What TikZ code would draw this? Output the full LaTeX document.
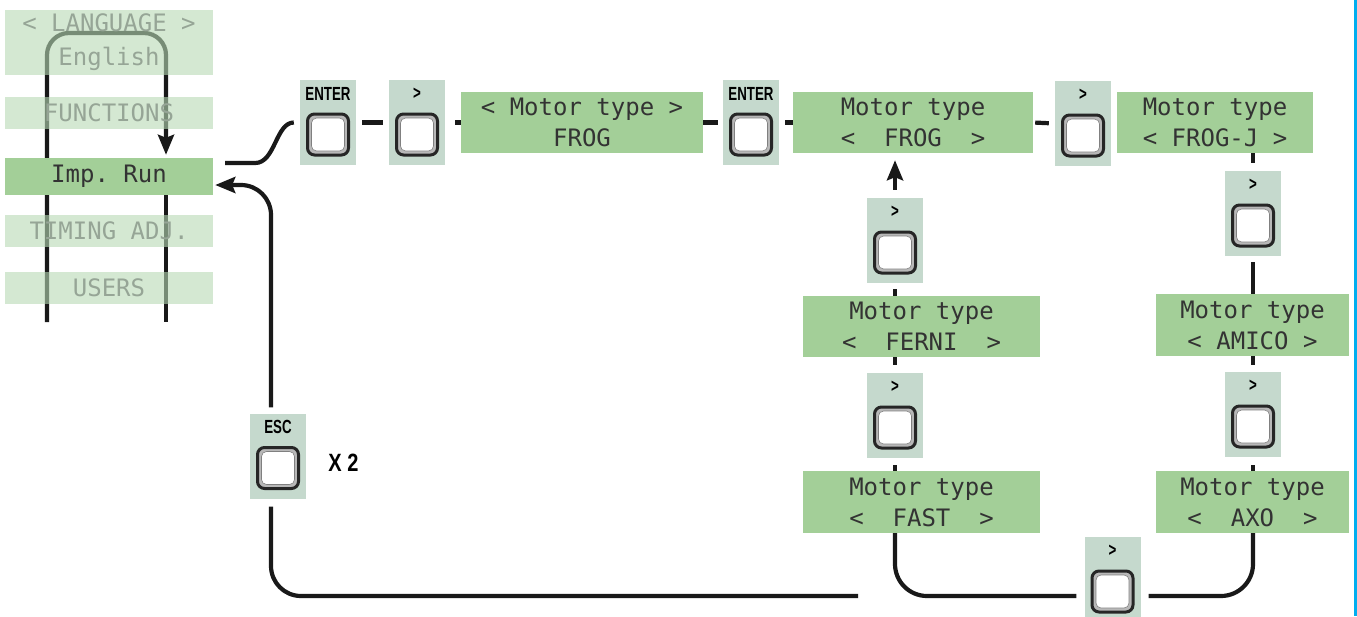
\documentclass[tikz,border=0pt]{standalone}
\usepackage{fontspec}
\usetikzlibrary{arrows.meta}
\newfontfamily\lcdfont{DejaVu Sans Mono}
\newfontfamily\keyfont[FakeStretch=0.7]{Liberation Sans}
\newfontfamily\countfont[FakeStretch=0.8]{Liberation Sans}
\definecolor{lcdgreen}{RGB}{163,207,152}
\definecolor{fadegreen}{RGB}{183,217,180}
\definecolor{keygrey}{RGB}{197,217,205}
\definecolor{fadetext}{RGB}{150,165,150}
\definecolor{edgeblue}{RGB}{0,174,239}
\tikzset{
  lcd/.style={rectangle, fill=lcdgreen, inner sep=0pt, align=center, text=black!80,
    font=\lcdfont\fontsize{24}{31}\selectfont},
  lcdfaded/.style={lcd, fill=fadegreen, fill opacity=0.6, text opacity=1, text=fadetext,
    font=\lcdfont\fontsize{24}{34}\selectfont},
  keypanel/.style={rectangle, fill=keygrey, minimum width=56pt, minimum height=85pt, inner sep=0pt},
  keylabel/.style={font=\keyfont\bfseries\fontsize{19}{19}\selectfont, inner sep=0pt},
  keybtn/.style={rectangle, rounded corners=7pt, minimum size=41pt, fill=black!28,
    draw=black!85, line width=3pt, inner sep=0pt},
  keyface/.style={rectangle, rounded corners=5pt, minimum size=33pt, fill=white,
    draw=black!50, line width=0.6pt, inner sep=0pt},
  link/.style={draw=black!90, line width=4.2pt},
  tip/.style={-{Stealth[length=20pt,width=16pt,inset=3pt]}},
}
% key panel: name, position, label
\newcommand{\keypanel}[3]{%
  \node[keypanel] (#1) at (#2) {};
  \node[keylabel] (#1-lbl) at ([shift={(0,-29)}]#1.center) {#3};
  \node[keybtn] (#1-btn) at ([shift={(0,12)}]#1.center) {};
  \node[keyface] (#1-face) at (#1-btn.center) {};
}
\begin{document}
\begin{tikzpicture}[x=1pt, y=-1pt]
\useasboundingbox (0,0) rectangle (1357,616);
% Menu rails (drawn first, the menu boxes go over them)
\coordinate (railL) at (47,322);
\coordinate (railR) at (166,322);
\node[lcd, minimum width=208pt, minimum height=37pt] (imp) at (109,176.5) {};
\draw[link, tip, rounded corners=22pt] (railL) -- (47,33) -- (166,33) -- ([shift={(0,-3)}]railR |- imp.north);
\draw[link] (railR |- imp.south) -- (railR);
% Menu
\node[lcdfaded, minimum width=208pt, minimum height=65pt] (language) at (109,42.5) {<~LANGUAGE~>\\English};
\node[lcdfaded, minimum width=208pt, minimum height=32pt] (functions) at (109,113) {FUNCTIONS};
\node[lcd, minimum width=208pt, minimum height=37pt] (imp) at (109,176.5) {Imp.~Run};
\node[lcdfaded, minimum width=208pt, minimum height=32pt] (timing) at (109,231) {TIMING~ADJ.};
\node[lcdfaded, minimum width=208pt, minimum height=32pt] (users) at (109,288) {USERS};
% Displays
\node[lcd, minimum width=242pt, minimum height=61pt] (motorsel) at (582,122.5) {<~Motor~type~>\\FROG};
\node[lcd, minimum width=240pt, minimum height=61pt] (frog) at (913,122.5) {Motor~type\\<~~FROG~~>};
\node[lcd, minimum width=196pt, minimum height=61pt] (frogj) at (1215,122.5) {Motor~type\\<~FROG-J~>};
\node[lcd, minimum width=237pt, minimum height=61pt] (ferni) at (921.5,326.5) {Motor~type\\<~~FERNI~~>};
\node[lcd, minimum width=193pt, minimum height=62pt] (amico) at (1252.5,325) {Motor~type\\<~AMICO~>};
\node[lcd, minimum width=237pt, minimum height=62pt] (fast) at (921.5,502) {Motor~type\\<~~FAST~~>};
\node[lcd, minimum width=193pt, minimum height=62pt] (axo) at (1252.5,502) {Motor~type\\<~~AXO~~>};
% Keys
\keypanel{keyEnterA}{328,122.5}{ENTER}
\keypanel{keyMotor}{417,122.5}{>}
\keypanel{keyEnterB}{751,122.5}{ENTER}
\keypanel{keyFrogJ}{1083,123.5}{>}
\keypanel{keyAmico}{1253,213.5}{>}
\keypanel{keyAxo}{1253,414.5}{>}
\keypanel{keyFast}{1112.5,579.5}{>}
\keypanel{keyFerni}{895,415.5}{>}
\keypanel{keyFrog}{895,240.5}{>}
\keypanel{keyEsc}{278,456}{ESC}
\node[font=\countfont\bfseries\fontsize{25}{25}\selectfont, anchor=west, inner sep=0pt] (times) at ([shift={(22,7)}]keyEsc.east) {X 2};
% Top row
\draw[link] ([shift={(12,-13.5)}]imp.east) -- ++(30,0) .. controls +(20,0) and +(-18,0) .. ([shift={(-6,0)}]keyEnterA.west);
\draw[link, shorten <=6pt, shorten >=6pt] (keyEnterA) -- (keyMotor);
\draw[link, shorten <=10pt] (keyMotor.east) -- (motorsel.west);
\draw[link, shorten >=5pt] (motorsel.east) -- (keyEnterB.west);
\draw[link, shorten <=6pt] (keyEnterB.east) -- (frog.west);
\draw[link, shorten <=2pt, shorten >=6pt] (frog.east) -- (keyFrogJ.west);
% Right column
\draw[link, shorten >=8pt] (frogj.south -| keyAmico) -- (keyAmico.north);
\draw[link, shorten <=6pt] (keyAmico.south) -- (keyAmico.south |- amico.north);
\draw[link, shorten >=7pt] (amico.south -| keyAxo) -- (keyAxo.north);
\draw[link, shorten <=8pt] (keyAxo.south) -- (keyAxo.south |- axo.north);
% Bottom loop
\draw[link, rounded corners=32pt] (keyAxo.south |- axo.south) |- ([shift={(8,16.5)}]keyFast.east);
\draw[link, rounded corners=32pt] (keyFerni.south |- fast.south) |- ([shift={(-8,16.5)}]keyFast.west);
% Middle column
\draw[link, shorten >=7pt] (fast.north -| keyFerni) -- (keyFerni.south);
\draw[link, shorten >=8pt] (ferni.south -| keyFerni) -- (keyFerni.north);
\draw[link, shorten <=6pt] (keyFrog.south) -- (keyFrog.south |- ferni.north);
\draw[link, tip, shorten <=8pt, shorten >=7pt] (keyFrog.north) -- (keyFrog.north |- frog.south);
% Back to the menu
\coordinate (escEnd) at (858,596);
\draw[link, rounded corners=30pt] ([shift={(-7,8)}]keyEsc.south) |- (escEnd);
\draw[link, tip, rounded corners=30pt] ([shift={(-7,-6)}]keyEsc.north) |- ([shift={(2,8.5)}]imp.east);
% Page edge
\draw[edgeblue, line width=2.5pt] (1355.5,0) -- (1355.5,616);
\end{tikzpicture}
\end{document}
